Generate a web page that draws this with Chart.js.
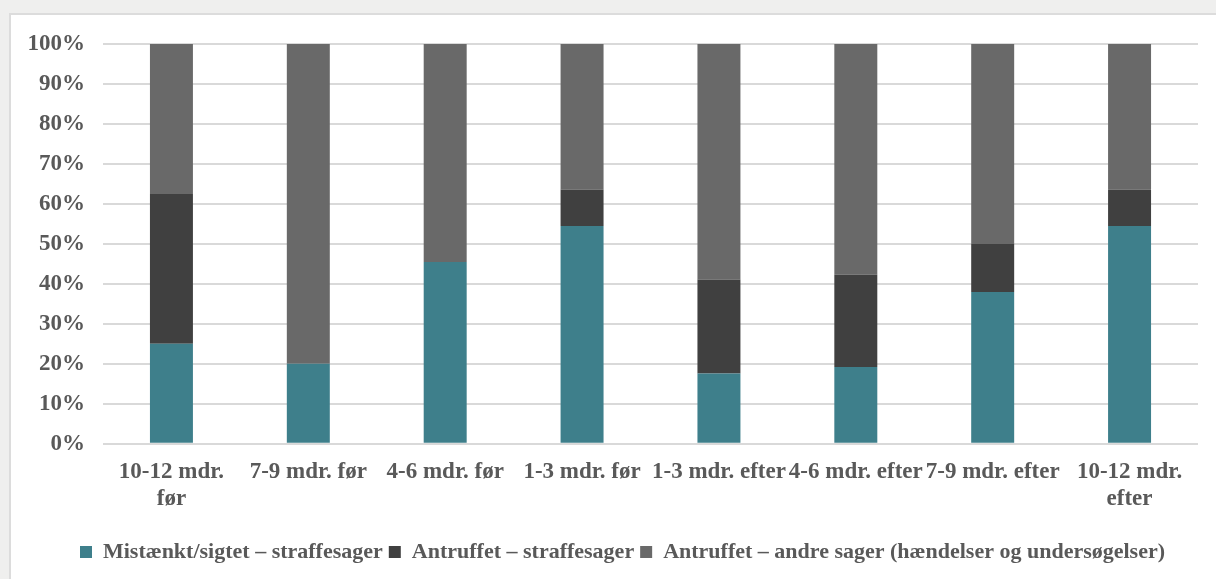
<!DOCTYPE html>
<html>
<head>
<meta charset="utf-8">
<script src="https://cdn.jsdelivr.net/npm/chart.js@4/dist/chart.umd.min.js"></script>
<style>
  html, body { margin: 0; padding: 0; width: 1216px; height: 579px; overflow: hidden; background: #efefee; }
  #panel { position: absolute; left: 9px; top: 13px; width: 1207px; height: 566px; background: #ffffff; border-left: 2px solid #dcdcdc; border-top: 2px solid #dcdcdc; }
  #wrap { position: absolute; left: 0; top: 0; width: 1216px; height: 579px; }
</style>
</head>
<body>
<div id="panel"></div>
<div id="wrap"><canvas id="c" width="1216" height="579"></canvas></div>
<script>
const categories = [["10-12 mdr.", "før"], "7-9 mdr. før", "4-6 mdr. før", "1-3 mdr. før", "1-3 mdr. efter", "4-6 mdr. efter", "7-9 mdr. efter", ["10-12 mdr.", "efter"]];
const mistaenktStraffesager = [25, 20, 45.5, 54.5, 17.6, 19.2, 38, 54.5];
const antruffetStraffesager = [37.5, 0, 0, 9.1, 23.5, 23.1, 12, 9.1];
const antruffetAndreSager = [37.5, 80, 54.5, 36.4, 58.9, 57.7, 50, 36.4];
const seriesNames = ["Mistænkt/sigtet – straffesager", "Antruffet – straffesager", "Antruffet – andre sager (hændelser og undersøgelser)"];

const family = "'Liberation Serif', 'Times New Roman', serif";
const tickFont = { family: family, weight: 'bold', size: 23 };
const legendFont = { family: family, weight: 'bold', size: 22 };
const textColor = '#595959';

new Chart(document.getElementById('c'), {
  type: 'bar',
  data: {
    labels: categories,
    datasets: [
      { label: seriesNames[0], data: mistaenktStraffesager, backgroundColor: '#3e7f8b' },
      { label: seriesNames[1], data: antruffetStraffesager, backgroundColor: '#404040' },
      { label: seriesNames[2], data: antruffetAndreSager, backgroundColor: '#696969' }
    ]
  },
  options: {
    responsive: false,
    animation: false,
    layout: { padding: { left: 29, right: 0, top: 44, bottom: 6 } },
    datasets: { bar: { categoryPercentage: 1, barPercentage: 0.314, borderWidth: 0 } },
    plugins: {
      legend: {
        position: 'bottom',
        labels: { font: legendFont, color: textColor, boxWidth: 12, boxHeight: 12, padding: 6 }
      },
      tooltip: { enabled: false }
    },
    scales: {
      x: {
        stacked: true,
        grid: { display: false },
        border: { display: false },
        ticks: { font: tickFont, color: textColor, maxRotation: 0, autoSkip: false, padding: 6 },
        afterFit: s => { s.height += 16; }
      },
      y: {
        stacked: true,
        min: 0, max: 100,
        grid: { color: '#d9d9d9', lineWidth: 2, drawTicks: false },
        border: { display: false },
        ticks: { stepSize: 10, font: tickFont, color: textColor, padding: 18, callback: v => v + '%' },
        afterFit: s => { s.width = 74; }
      },
      yRight: {
        position: 'right',
        display: true,
        grid: { display: false, drawTicks: false },
        border: { display: false },
        ticks: { display: false },
        afterFit: s => { s.width = 18; }
      }
    }
  }
});
</script>
</body>
</html>
